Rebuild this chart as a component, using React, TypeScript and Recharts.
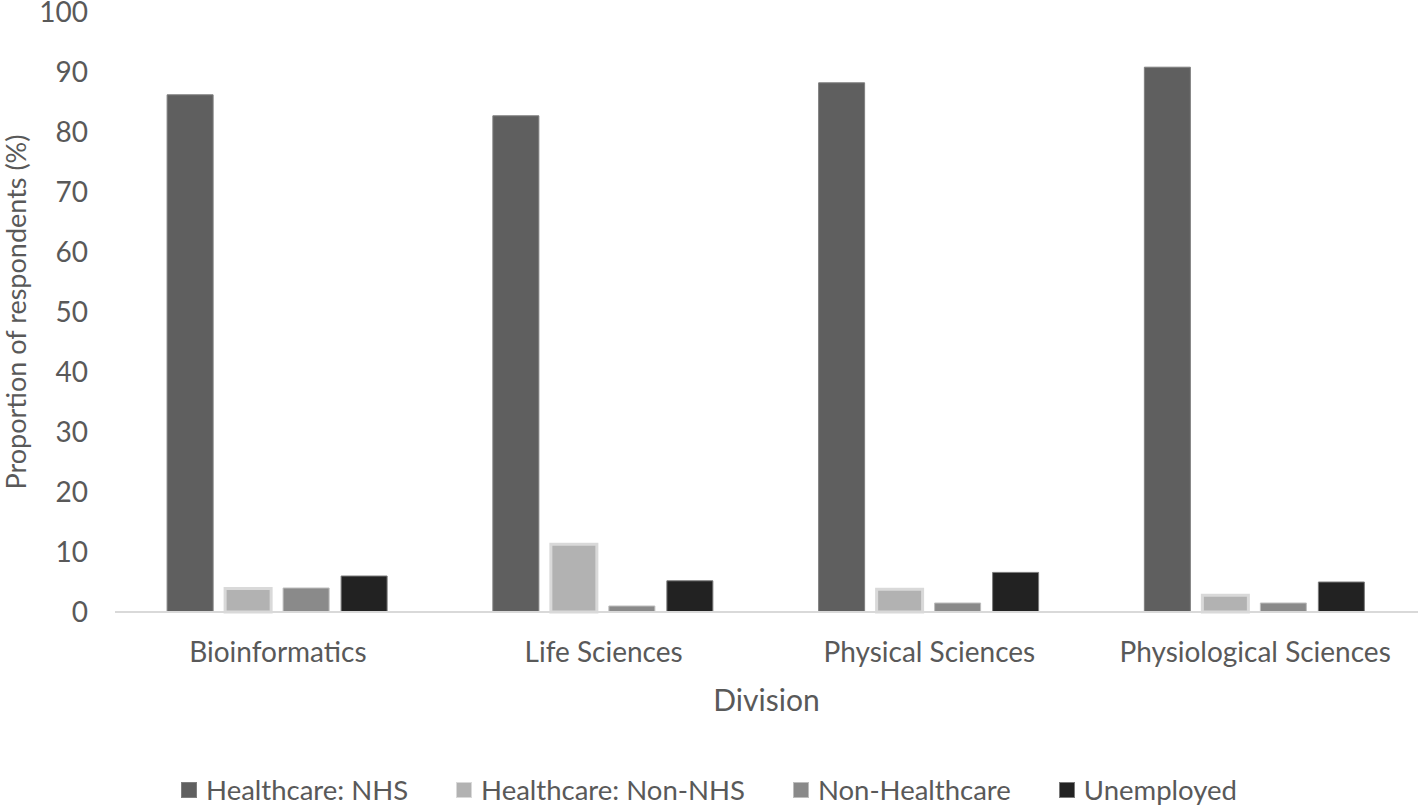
import React from 'react';
import { BarChart, Bar, XAxis, YAxis, Legend } from 'recharts';

const divisions = ['Bioinformatics', 'Life Sciences', 'Physical Sciences', 'Physiological Sciences'];
const nhs = [86.2, 82.7, 88.2, 90.8];
const nonNhs = [3.9, 11.3, 3.8, 2.8];
const nonHealthcare = [4.0, 1.0, 1.5, 1.5];
const unemployed = [6.0, 5.2, 6.6, 5.0];
const yTicks = [0, 10, 20, 30, 40, 50, 60, 70, 80, 90, 100];

const data = divisions.map((d, i) => ({
  division: d,
  nhs: nhs[i],
  nonNhs: nonNhs[i],
  nonHealthcare: nonHealthcare[i],
  unemployed: unemployed[i],
}));

const FONT = 'Lato, "Noto Sans", sans-serif';
const TEXT = '#595959';

const legendItems = [
  { name: 'Healthcare: NHS', fill: '#5f5f5f', stroke: '#7f7f7f' },
  { name: 'Healthcare: Non-NHS', fill: '#b2b2b2', stroke: '#d9d9d9' },
  { name: 'Non-Healthcare', fill: '#8a8a8a', stroke: '#bdbdbd' },
  { name: 'Unemployed', fill: '#222222', stroke: '#7a7a7a' },
];

const renderLegend = () => (
  <div style={{ display: 'flex', justifyContent: 'center', gap: 48, fontFamily: FONT, fontSize: 27.5, color: TEXT, lineHeight: '30px' }}>
    {legendItems.map((it) => (
      <div key={it.name} style={{ display: 'flex', alignItems: 'center' }}>
        <span style={{ display: 'inline-block', width: 14, height: 14, background: it.fill, border: `1px solid ${it.stroke}`, marginRight: 9 }} />
        <span>{it.name}</span>
      </div>
    ))}
  </div>
);

const YTitle = (props: any) => {
  const vb = props.viewBox || { x: 0, y: 0, width: 0, height: 0 };
  const cx = vb.x + 15;
  const cy = vb.y + vb.height / 2;
  return (
    <text
      x={cx}
      y={cy}
      transform={`rotate(-90, ${cx}, ${cy})`}
      textAnchor="middle"
      dominantBaseline="central"
      fill={TEXT}
      fontSize={27}
      fontFamily={FONT}
    >
      Proportion of respondents (%)
    </text>
  );
};

export default function App() {
  return (
    <div style={{ position: 'absolute', left: 0, top: 0, width: 1418, height: 805, background: '#fff' }}>
      <BarChart
        width={1418}
        height={805}
        data={data}
        margin={{ top: 12, right: 0, left: 0, bottom: 0 }}
        barCategoryGap="16%"
        barGap={12}
      >
        <XAxis
          dataKey="division"
          height={163}
          axisLine={{ stroke: '#d9d9d9', strokeWidth: 2 }}
          tickLine={false}
          tickSize={0}
          tickMargin={30}
          tick={{ fill: TEXT, fontSize: 28, fontFamily: FONT }}
          label={{ value: 'Division', position: 'insideTop', offset: 78, fill: TEXT, fontSize: 30, fontFamily: FONT }}
        />
        <YAxis
          width={115}
          domain={[0, 100]}
          ticks={yTicks}
          axisLine={false}
          tickLine={false}
          tickSize={0}
          tickMargin={27}
          interval={0}
          tick={{ fill: TEXT, fontSize: 28, fontFamily: FONT }}
          label={<YTitle />}
        />
        <Legend verticalAlign="bottom" height={30} content={renderLegend} />
        <Bar dataKey="nhs" name="Healthcare: NHS" fill="#5f5f5f" stroke="#7f7f7f" strokeWidth={1} isAnimationActive={false} />
        <Bar dataKey="nonNhs" name="Healthcare: Non-NHS" fill="#b2b2b2" stroke="#d9d9d9" strokeWidth={3} isAnimationActive={false} />
        <Bar dataKey="nonHealthcare" name="Non-Healthcare" fill="#8a8a8a" stroke="#bdbdbd" strokeWidth={1} isAnimationActive={false} />
        <Bar dataKey="unemployed" name="Unemployed" fill="#222222" stroke="#7a7a7a" strokeWidth={1} isAnimationActive={false} />
      </BarChart>
    </div>
  );
}
